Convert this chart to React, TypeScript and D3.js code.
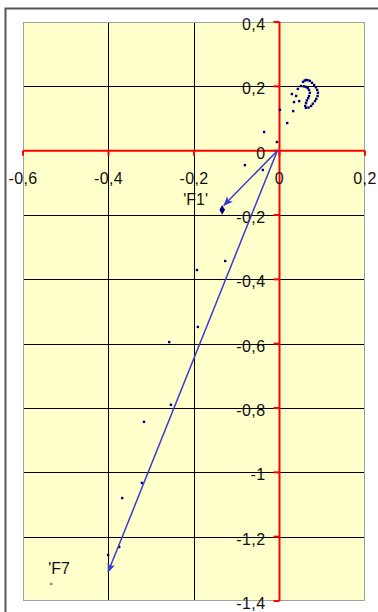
import React, { useEffect, useRef } from 'react';
import * as d3 from 'd3';

const xTicks = [-0.6, -0.4, -0.2, 0, 0.2];
const xTickLabels = ['-0,6', '-0,4', '-0,2', '0', '0,2'];
const yTicks = [0.4, 0.2, 0, -0.2, -0.4, -0.6, -0.8, -1, -1.2, -1.4];
const yTickLabels = ['0,4', '0,2', '0', '-0,2', '-0,4', '-0,6', '-0,8', '-1', '-1,2', '-1,4'];

// scatter of observations (small navy dots); the first block is the dense loop near (0.07, 0.18)
const pointsX = [
  0.043, 0.050, 0.055, 0.059, 0.062, 0.066, 0.071, 0.076, 0.081, 0.085, 0.088, 0.090, 0.089, 0.086, 0.083,
  0.078, 0.074, 0.068, 0.062, 0.060, 0.062, 0.064, 0.067, 0.069, 0.071, 0.069, 0.066, 0.062, 0.057,
  0.029, 0.039, 0.046, 0.034, 0.032, 0.018, 0.001, -0.036, -0.006, -0.081, -0.039,
  -0.127, -0.193, -0.191, -0.258, -0.254, -0.317, -0.322, -0.368, -0.375, -0.401,
];
const pointsY = [
  0.192, 0.201, 0.214, 0.218, 0.220, 0.219, 0.217, 0.211, 0.204, 0.197, 0.189, 0.180, 0.170, 0.161, 0.154,
  0.146, 0.139, 0.134, 0.133, 0.139, 0.148, 0.156, 0.163, 0.170, 0.180, 0.189, 0.195, 0.198, 0.200,
  0.176, 0.170, 0.154, 0.151, 0.123, 0.086, 0.127, 0.058, 0.027, -0.045, -0.060,
  -0.343, -0.371, -0.548, -0.595, -0.790, -0.843, -1.033, -1.080, -1.232, -1.257,
];

// factor vectors
const vectorNames = ["'F1'", "'F7"];
const vectorStartX = [-0.005, -0.005];
const vectorStartY = [0, 0];
const vectorEndX = [-0.13, -0.401];
const vectorEndY = [-0.17, -1.31];
const markerX = [-0.134, -0.534];
const markerY = [-0.184, -1.347];

export default function App() {
  const ref = useRef<SVGSVGElement | null>(null);

  useEffect(() => {
    const node = ref.current;
    if (!node) return;
    const svg = d3.select(node);
    svg.selectAll('*').remove();

    const left = 23, right = 365, top = 22, bottom = 601;
    const x = d3.scaleLinear().domain([-0.6, 0.2]).range([left, right]);
    const y = d3.scaleLinear().domain([0.4, -1.4]).range([top, bottom]);
    const font = 'Arial, "Liberation Sans", sans-serif';

    svg.append('rect').attr('x', 0).attr('y', 0).attr('width', 378).attr('height', 612).attr('fill', '#fff');
    // outer chart frame
    svg.append('path').attr('d', 'M5.5,612 V8.5 H378').attr('fill', 'none')
      .attr('stroke', '#555').attr('stroke-width', 2);

    svg.append('rect')
      .attr('x', left).attr('y', top)
      .attr('width', right - left).attr('height', bottom - top)
      .attr('fill', '#ffffcc');

    const g = svg.append('g');
    g.selectAll('line.vgrid')
      .data(xTicks.filter(d => d !== 0 && d > -0.6 && d < 0.2))
      .enter().append('line')
      .attr('x1', d => Math.round(x(d)) + 0.5).attr('x2', d => Math.round(x(d)) + 0.5)
      .attr('y1', top).attr('y2', bottom)
      .attr('stroke', '#000').attr('stroke-width', 1);
    g.selectAll('line.hgrid')
      .data(yTicks.filter(d => d !== 0 && d < 0.4 && d > -1.4))
      .enter().append('line')
      .attr('y1', d => Math.round(y(d)) + 0.5).attr('y2', d => Math.round(y(d)) + 0.5)
      .attr('x1', left).attr('x2', right)
      .attr('stroke', '#000').attr('stroke-width', 1);

    svg.append('rect')
      .attr('x', left + 0.5).attr('y', top + 0.5)
      .attr('width', right - left - 1).attr('height', bottom - top - 1)
      .attr('fill', 'none').attr('stroke', '#a0a0a0');

    // red axes
    const x0 = x(0), y0 = y(0);
    svg.append('line').attr('x1', x0).attr('x2', x0).attr('y1', top).attr('y2', bottom)
      .attr('stroke', '#ff0000').attr('stroke-width', 2);
    svg.append('line').attr('x1', left).attr('x2', right).attr('y1', y0).attr('y2', y0)
      .attr('stroke', '#ff0000').attr('stroke-width', 2);
    svg.selectAll('line.xtick').data(xTicks).enter().append('line')
      .attr('x1', d => x(d)).attr('x2', d => x(d)).attr('y1', y0).attr('y2', y0 + 5)
      .attr('stroke', '#ff0000').attr('stroke-width', 2);
    svg.selectAll('line.ytick').data(yTicks).enter().append('line')
      .attr('x1', x0 - 6).attr('x2', x0).attr('y1', d => y(d)).attr('y2', d => y(d))
      .attr('stroke', '#ff0000').attr('stroke-width', 2);

    // tick labels
    svg.selectAll('text.xl').data(xTicks).enter().append('text')
      .attr('x', d => x(d)).attr('y', y0 + 33)
      .attr('text-anchor', 'middle')
      .attr('font-family', font).attr('font-size', 16).attr('letter-spacing', 0.4)
      .attr('fill', '#111')
      .text((d, i) => xTickLabels[i]);
    svg.selectAll('text.yl').data(yTicks).enter().append('text')
      .attr('x', x0 - 14).attr('y', d => y(d) + 8)
      .attr('text-anchor', 'end')
      .attr('font-family', font).attr('font-size', 16).attr('letter-spacing', 0.4)
      .attr('fill', '#111')
      .text((d, i) => yTickLabels[i]);

    // points
    svg.selectAll('rect.pt').data(pointsX).enter().append('rect')
      .attr('x', (d) => x(d) - 1.2).attr('y', (d, i) => y(pointsY[i]) - 1.2)
      .attr('width', 2.4).attr('height', 2.4)
      .attr('fill', '#000080');

    // vectors
    const defs = svg.append('defs');
    defs.append('marker')
      .attr('id', 'arr').attr('viewBox', '0 0 12 10')
      .attr('refX', 11).attr('refY', 5)
      .attr('markerWidth', 11).attr('markerHeight', 8)
      .attr('markerUnits', 'userSpaceOnUse')
      .attr('orient', 'auto')
      .append('path').attr('d', 'M0,0 L12,5 L0,10 L3,5 Z').attr('fill', '#3a3ad2');

    svg.selectAll('line.vec').data(vectorNames).enter().append('line')
      .attr('x1', (d, i) => x(vectorStartX[i])).attr('y1', (d, i) => y(vectorStartY[i]))
      .attr('x2', (d, i) => x(vectorEndX[i])).attr('y2', (d, i) => y(vectorEndY[i]))
      .attr('stroke', '#3a3ad2').attr('stroke-width', 1.5)
      .attr('marker-end', 'url(#arr)');

    // F1 diamond marker, F7 small dot
    svg.append('path')
      .attr('d', d3.symbol().type(d3.symbolDiamond).size(28)())
      .attr('transform', `translate(${x(markerX[0])},${y(markerY[0])})`)
      .attr('fill', '#000080');
    svg.append('rect')
      .attr('x', x(markerX[1]) - 1.2).attr('y', y(markerY[1]) - 1.2)
      .attr('width', 2.4).attr('height', 2.4).attr('fill', '#9a8a50');

    svg.append('text').attr('x', x(markerX[0]) - 39).attr('y', y(markerY[0]) - 5)
      .attr('font-family', font).attr('font-size', 16).attr('fill', '#111')
      .text(vectorNames[0]);
    svg.append('text').attr('x', x(markerX[1]) - 3).attr('y', y(markerY[1]) - 10)
      .attr('font-family', font).attr('font-size', 16).attr('fill', '#111')
      .text(vectorNames[1]);
  }, []);

  return (
    <div style={{ position: 'absolute', left: 0, top: 0 }}>
      <svg ref={ref} width={378} height={612} style={{ display: 'block' }} />
    </div>
  );
}
